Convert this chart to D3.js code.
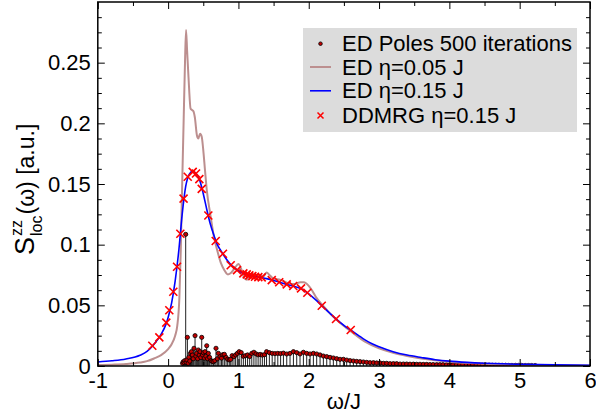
<!DOCTYPE html>
<html><head><meta charset="utf-8">
<script src="https://cdn.jsdelivr.net/npm/d3@7"></script>
<style>
body{margin:0;background:#fff;}
svg{display:block;font-family:"Liberation Sans",Arial,sans-serif;}
</style></head>
<body><svg id="c" width="596" height="415"></svg>
<script>
// ---- data ----
const edBroadW = [-1,-0.8,-0.6,-0.4,-0.3,-0.2,-0.1,-0.03,0,0.05,0.1,0.15,0.2,0.25,0.3,0.35,0.4,0.45,0.5,0.55,0.6,0.65,0.7,0.75,0.8,0.9,1.0,1.1,1.2,1.3,1.4,1.5,1.6,1.7,1.8,1.9,2.0,2.1,2.2,2.3,2.4,2.5,2.6,2.7,2.8,2.9,3.0,3.2,3.4,3.6,3.8,4.0,4.25,4.5,4.75,5.0,5.5,6.0];
const edBroadS = [0.0033,0.0043,0.0058,0.0088,0.0120,0.0180,0.0260,0.0345,0.0400,0.0520,0.0700,0.0940,0.1250,0.1480,0.1580,0.1605,0.1585,0.1530,0.1420,0.1290,0.1170,0.1080,0.1000,0.0950,0.0905,0.0830,0.0785,0.0758,0.0741,0.0732,0.0720,0.0705,0.0688,0.0670,0.0655,0.0635,0.0595,0.0545,0.0490,0.0435,0.0382,0.0335,0.0295,0.0255,0.0215,0.0183,0.0158,0.0118,0.0090,0.0070,0.0052,0.0040,0.0030,0.0023,0.0018,0.0014,0.0009,0.0006];

const edNarrowW = [-1,-0.8,-0.6,-0.4,-0.3,-0.2,-0.1,0,0.05,0.1,0.13,0.16,0.18,0.2,0.22,0.24,0.255,0.27,0.29,0.32,0.34,0.36,0.38,0.41,0.43,0.455,0.478,0.5,0.525,0.55,0.6,0.65,0.7,0.75,0.8,0.85,0.9,0.95,1.0,1.04,1.08,1.12,1.16,1.2,1.25,1.3,1.35,1.4,1.45,1.5,1.6,1.7,1.8,1.88,1.93,2.0,2.05,2.1,2.2,2.3,2.4,2.5,2.6,2.8,3.0,3.2,3.4,3.6,3.8,4.0,4.5,5.0,5.5,6.0];
const edNarrowS = [0.0008,0.0011,0.0016,0.0028,0.0040,0.0062,0.0090,0.0140,0.0180,0.0250,0.0330,0.0560,0.0950,0.1500,0.2000,0.2500,0.2770,0.2600,0.2380,0.2120,0.2110,0.2100,0.2050,0.1900,0.1875,0.1915,0.1890,0.1780,0.1610,0.1450,0.1250,0.1070,0.0950,0.0850,0.0790,0.0755,0.0770,0.0810,0.0840,0.0800,0.0730,0.0710,0.0740,0.0760,0.0745,0.0750,0.0735,0.0770,0.0745,0.0720,0.0710,0.0685,0.0675,0.0690,0.0690,0.0660,0.0620,0.0570,0.0500,0.0435,0.0380,0.0330,0.0285,0.0200,0.0145,0.0108,0.0082,0.0062,0.0047,0.0035,0.0019,0.0011,0.0007,0.0004];

const ddmrgW = [-0.225,-0.125,-0.026,0.017,0.074,0.127,0.174,0.22,0.279,0.35,0.397,0.444,0.478,0.572,0.677,0.78,0.89,0.98,1.07,1.118,1.155,1.198,1.236,1.283,1.331,1.474,1.58,1.687,1.78,1.89,1.98,2.185,2.388,2.597];
const ddmrgS = [0.0167,0.0236,0.0357,0.0459,0.0612,0.0818,0.109,0.138,0.156,0.160,0.1587,0.154,0.146,0.124,0.103,0.0925,0.083,0.079,0.0763,0.0755,0.0747,0.0741,0.0736,0.0733,0.073,0.0708,0.069,0.0673,0.0659,0.064,0.0604,0.0497,0.0387,0.0297];

const poleW = [0.205,0.215,0.228,0.238,0.250,0.258,0.268,0.274,0.285,0.295,0.308,0.318,0.332,0.345,0.358,0.368,0.383,0.395,0.406,0.420,0.430,0.442,0.454,0.466,0.478,0.490,0.502,0.514,0.525,0.537,0.549,0.561,0.572,0.590,0.610,0.625,0.645,0.665,0.681,0.700,
0.715,0.738,0.76,0.778,0.80,0.824,0.847,0.87,0.89,0.91,0.937,0.96,0.985,1.01,1.04,1.07,1.10,1.13,1.16,1.19,1.22,1.25,1.28,1.31,1.34,1.37,1.40,1.44,1.48,1.52,1.56,1.60,1.64,1.687,1.734,1.782,1.829,1.876,1.924,1.971,2.019,2.066,2.113,2.161,2.208,2.256,2.303,2.35,2.398,2.445,2.493,2.54,2.588,2.635,2.682,2.73,2.777,2.825,2.872,2.92,2.967,3.014,3.062,3.109,3.157,3.204,3.251,3.299,3.346,3.393,3.44,3.488,3.535,3.582,3.63,3.677,3.724,3.77,3.82,3.865,3.91,3.96,4.005,4.05,4.10,4.145,4.19,4.24,4.285,4.33,4.38,4.425,4.47,4.52,4.565,4.61,4.66,4.705,4.75,4.80,4.845,4.89,4.94,4.985,5.03,5.08,5.125,5.17,5.22];
const poleS = [0.0022,0.0035,0.0028,0.0045,0.1085,0.0030,0.0050,0.0236,0.0022,0.0072,0.0040,0.0104,0.0118,0.0090,0.0060,0.0146,0.0250,0.0080,0.0104,0.0060,0.0132,0.0090,0.0118,0.0070,0.0236,0.0090,0.0110,0.0065,0.0118,0.0080,0.0167,0.0060,0.0104,0.0071,0.0045,0.0038,0.0036,0.0044,0.0146,0.0060,
0.0104,0.0077,0.0065,0.0093,0.0096,0.0071,0.0055,0.0050,0.0055,0.0085,0.0077,0.0091,0.0104,0.0118,0.0110,0.0080,0.0085,0.0091,0.0078,0.0104,0.0113,0.0100,0.0092,0.0095,0.0090,0.0093,0.0118,0.0110,0.0104,0.0102,0.0104,0.0102,0.0106,0.0099,0.0104,0.0118,0.0110,0.0099,0.0113,0.0104,0.0099,0.0104,0.0099,0.0091,0.0082,0.0077,0.0071,0.0066,0.0060,0.0055,0.0055,0.0049,0.0044,0.0041,0.0038,0.0036,0.0033,0.0030,0.0027,0.0027,0.0025,0.0025,0.0022,0.0022,0.0019,0.0019,0.0019,0.0016,0.0016,0.0016,0.0015,0.0015,0.0014,0.0014,0.0013,0.0013,0.0012,0.0012,0.0011,0.0011,0.0011,0.0010,0.0010,0.0010,0.0009,0.0009,0.0009,0.0008,0.0008,0.0008,0.0008,0.0007,0.0007,0.0007,0.0007,0.0006,0.0006,0.0006,0.0006,0.0006,0.0005,0.0005,0.0005,0.0005,0.0005,0.0004,0.0004,0.0004,0.0004];

const xTicks = [-1,0,1,2,3,4,5,6];
const xTickLabels = ["-1","0","1","2","3","4","5","6"];
const xMinor = [-0.5,0.5,1.5,2.5,3.5,4.5,5.5];
const yTicks = [0,0.05,0.1,0.15,0.2,0.25];
const yTickLabels = ["0","0.05","0.1","0.15","0.2","0.25"];
const yMinor = [0.0125,0.025,0.0375,0.0625,0.075,0.0875,0.1125,0.125,0.1375,0.1625,0.175,0.1875,0.2125,0.225,0.2375,0.2625,0.275,0.2875];
const legendLabels = ["ED Poles 500 iterations","ED \u03b7=0.05 J","ED \u03b7=0.15 J","DDMRG \u03b7=0.15 J"];

// ---- layout ----
const L=97.8, R=590, T=2, B=366;
const svg=d3.select("#c");
const x=d3.scaleLinear().domain([-1,6]).range([L,R]);
const y=d3.scaleLinear().domain([0,0.3]).range([B,T]);

svg.append("defs").append("clipPath").attr("id","clip").append("rect")
  .attr("x",L).attr("y",T).attr("width",R-L).attr("height",B-T);
const plot=svg.append("g").attr("clip-path","url(#clip)");

// poles
const poles=poleW.map((w,i)=>({w,s:poleS[i]}));
plot.append("g").selectAll("line").data(poles).join("line")
  .attr("x1",d=>x(d.w)).attr("x2",d=>x(d.w))
  .attr("y1",y(0)).attr("y2",d=>y(d.s))
  .attr("stroke","#222").attr("stroke-width",1);
plot.append("g").selectAll("circle").data(poles).join("circle")
  .attr("cx",d=>x(d.w)).attr("cy",d=>y(d.s)).attr("r",2.1)
  .attr("fill","#c00000").attr("stroke","#000").attr("stroke-width",0.8);

const line=d3.line().x(d=>x(d[0])).y(d=>y(d[1])).curve(d3.curveMonotoneX);
plot.append("path").datum(edNarrowW.map((w,i)=>[w,edNarrowS[i]]))
  .attr("d",line).attr("fill","none").attr("stroke","#bc8f8f").attr("stroke-width",2);
plot.append("path").datum(edBroadW.map((w,i)=>[w,edBroadS[i]]))
  .attr("d",line).attr("fill","none").attr("stroke","#0000ff").attr("stroke-width",1.6);

// crosses
const cs=4;
plot.append("g").selectAll("path").data(ddmrgW.map((w,i)=>[w,ddmrgS[i]])).join("path")
  .attr("d",d=>{const X=x(d[0]),Y=y(d[1]);return `M${X-cs},${Y-cs}L${X+cs},${Y+cs}M${X-cs},${Y+cs}L${X+cs},${Y-cs}`;})
  .attr("stroke","#ff0000").attr("stroke-width",1.6).attr("fill","none");

// axes
const fs="22px";
function style(g){g.select(".domain").remove();g.selectAll("line").attr("stroke","#000");}
const xa=svg.append("g").attr("transform",`translate(0,${B})`)
  .call(d3.axisBottom(x).tickValues(xTicks).tickFormat((d,i)=>xTickLabels[i]).tickSize(-7).tickPadding(6));
style(xa); xa.selectAll("text").attr("font-size",fs).attr("fill","#000").attr("font-family","Liberation Sans, Arial, sans-serif");
const xm=svg.append("g").attr("transform",`translate(0,${B})`).call(d3.axisBottom(x).tickValues(xMinor).tickFormat("").tickSize(-4)); style(xm);
const xt=svg.append("g").attr("transform",`translate(0,${T})`).call(d3.axisTop(x).tickValues(xTicks).tickFormat("").tickSize(-7)); style(xt);
const xtm=svg.append("g").attr("transform",`translate(0,${T})`).call(d3.axisTop(x).tickValues(xMinor).tickFormat("").tickSize(-4)); style(xtm);

const ya=svg.append("g").attr("transform",`translate(${L},0)`)
  .call(d3.axisLeft(y).tickValues(yTicks).tickFormat((d,i)=>yTickLabels[i]).tickSize(-7).tickPadding(7));
style(ya); ya.selectAll("text").attr("font-size",fs).attr("fill","#000").attr("font-family","Liberation Sans, Arial, sans-serif");
const ym=svg.append("g").attr("transform",`translate(${L},0)`).call(d3.axisLeft(y).tickValues(yMinor).tickFormat("").tickSize(-4)); style(ym);
const yr=svg.append("g").attr("transform",`translate(${R},0)`).call(d3.axisRight(y).tickValues(yTicks).tickFormat("").tickSize(-7)); style(yr);
const yrm=svg.append("g").attr("transform",`translate(${R},0)`).call(d3.axisRight(y).tickValues(yMinor).tickFormat("").tickSize(-4)); style(yrm);

svg.append("rect").attr("x",L).attr("y",T).attr("width",R-L).attr("height",B-T)
  .attr("fill","none").attr("stroke","#000").attr("stroke-width",1.5);

// x label
svg.append("text").attr("x",(L+R)/2).attr("y",409).attr("text-anchor","middle")
  .attr("font-size",fs).text("\u03c9/J");

// y label
const yl=svg.append("g").attr("transform","translate(34,255) rotate(-90)");
const tS=yl.append("text").attr("x",0).attr("y",0).attr("font-size","27px").text("S");
const wS=tS.node().getComputedTextLength();
const tz=yl.append("text").attr("x",wS+1).attr("y",-12).attr("font-size","16px").text("zz");
const tl=yl.append("text").attr("x",wS+1).attr("y",8).attr("font-size","16px").text("loc");
const wsub=Math.max(tz.node().getComputedTextLength(),tl.node().getComputedTextLength());
yl.append("text").attr("x",wS+wsub+2).attr("y",0).attr("font-size","23px").text("(\u03c9) [a.u.]");

// legend
const lg=svg.append("g");
lg.append("rect").attr("x",303).attr("y",28).attr("width",274).attr("height",104).attr("fill","#dcdcdc");
const rowY=[50.7,74.5,98.3,122.5];
legendLabels.forEach((t,i)=>{
  lg.append("text").attr("x",342).attr("y",rowY[i]).attr("font-size",fs).text(t);
});
const sx=320.5;
lg.append("circle").attr("cx",sx).attr("cy",rowY[0]-7).attr("r",1.8).attr("fill","#c00000").attr("stroke","#000").attr("stroke-width",0.8);
lg.append("line").attr("x1",310).attr("x2",331).attr("y1",rowY[1]-7.5).attr("y2",rowY[1]-7.5).attr("stroke","#bc8f8f").attr("stroke-width",2);
lg.append("line").attr("x1",310).attr("x2",331).attr("y1",rowY[2]-7.5).attr("y2",rowY[2]-7.5).attr("stroke","#0000ff").attr("stroke-width",1.6);
const cy3=rowY[3]-7, c3=3;
lg.append("path").attr("d",`M${sx-c3},${cy3-c3}L${sx+c3},${cy3+c3}M${sx-c3},${cy3+c3}L${sx+c3},${cy3-c3}`).attr("stroke","#ff0000").attr("stroke-width",1.5);
</script></body></html>
